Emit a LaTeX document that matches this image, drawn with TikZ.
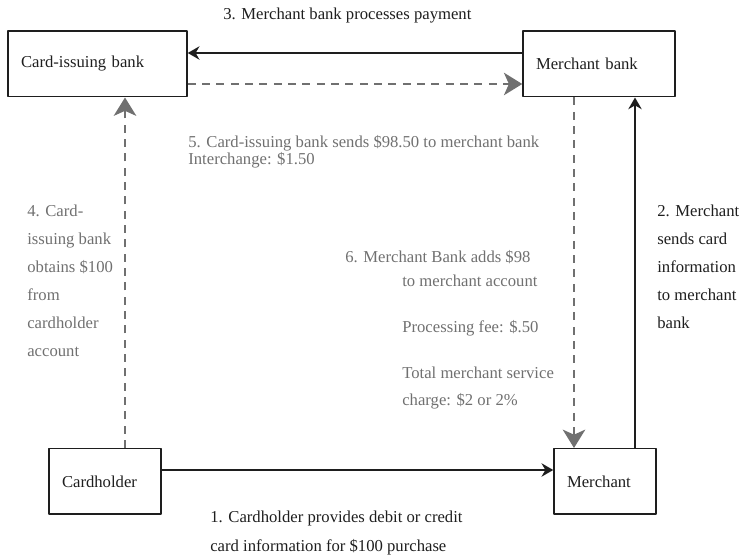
\documentclass[tikz,border=0pt]{standalone}
\usepackage{fontspec}
\setmainfont{Liberation Serif}
\usetikzlibrary{arrows.meta}
\definecolor{ink}{RGB}{30,30,30}
\definecolor{note}{RGB}{112,112,112}
\begin{document}
\begin{tikzpicture}[x=0.6pt, y=-0.6pt, font=\fontsize{10}{12}\selectfont, line join=round,
  box/.style={draw=ink, line width=0.9pt, minimum height=39.3pt, inner xsep=7.8pt, align=left, text=ink},
  lbl/.style={anchor=north west, inner sep=0pt, align=left},
  flow/.style={draw=ink, line width=1.2pt, -{Stealth[length=7pt,width=8pt]}},
  money/.style={draw=note, line width=1.3pt, dash pattern=on 4.8pt off 3.8pt, -{Stealth[length=11pt,width=13.5pt,inset=3pt]}}]
\useasboundingbox (0,0) rectangle (742,557);
% the four parties
\node[box, text width=91.8pt] (issuer) at (97.5,64) {Card-issuing bank};
\node[box, text width=75.6pt] (acquirer) at (599,64) {Merchant bank};
\node[box, text width=51.6pt] (holder) at (105,481.5) {Cardholder};
\node[box, text width=45.6pt] (merchant) at (605,481.5) {Merchant};
% levels of the connectors
\path (0,470) coordinate (y1) (635,0) coordinate (x2) (0,53) coordinate (y3)
  (125,0) coordinate (x4) (0,84) coordinate (y5) (574,0) coordinate (x6);
\draw[flow] (holder.east |- y1) -- (merchant.west |- y1);
\draw[flow] (merchant.north -| x2) -- (acquirer.south -| x2);
\draw[flow] (acquirer.west |- y3) -- (issuer.east |- y3);
\draw[money] (holder.north -| x4) -- (issuer.south -| x4);
\draw[money] (issuer.east |- y5) -- (acquirer.west |- y5);
\draw[money] (acquirer.south -| x6) -- (merchant.north -| x6);
% step texts
\node[lbl, text=ink] (s3) at (223,7.5) {3. Merchant bank processes payment};
\node[lbl, text=note, font=\fontsize{10}{10.2}\selectfont] (s5) at (188,135.5) {5. Card-issuing bank sends \$98.50 to merchant bank\\Interchange: \$1.50};
\node[lbl, text=note, font=\fontsize{10}{16.8}\selectfont] (s4) at (27,204.5) {4. Card-\\issuing bank\\obtains \$100\\from\\cardholder\\account};
\node[lbl, text=ink, font=\fontsize{10}{16.8}\selectfont] (s2) at (657,204.5) {2. Merchant\\sends card\\information\\to merchant\\bank};
\node[lbl, text=note, font=\fontsize{10}{14.4}\selectfont] (s6) at (345,250.5) {6. Merchant Bank adds \$98\\\hspace*{34.2pt}to merchant account};
\node[lbl, text=note] (fee) at (402,320.5) {Processing fee: \$.50};
\node[lbl, text=note, font=\fontsize{10}{16.2}\selectfont] (total) at (402,366.5) {Total merchant service\\charge: \$2 or 2\%};
\node[lbl, text=ink, font=\fontsize{10}{17.4}\selectfont] (s1) at (210,510.5) {1. Cardholder provides debit or credit\\card information for \$100 purchase};
\end{tikzpicture}
\end{document}
